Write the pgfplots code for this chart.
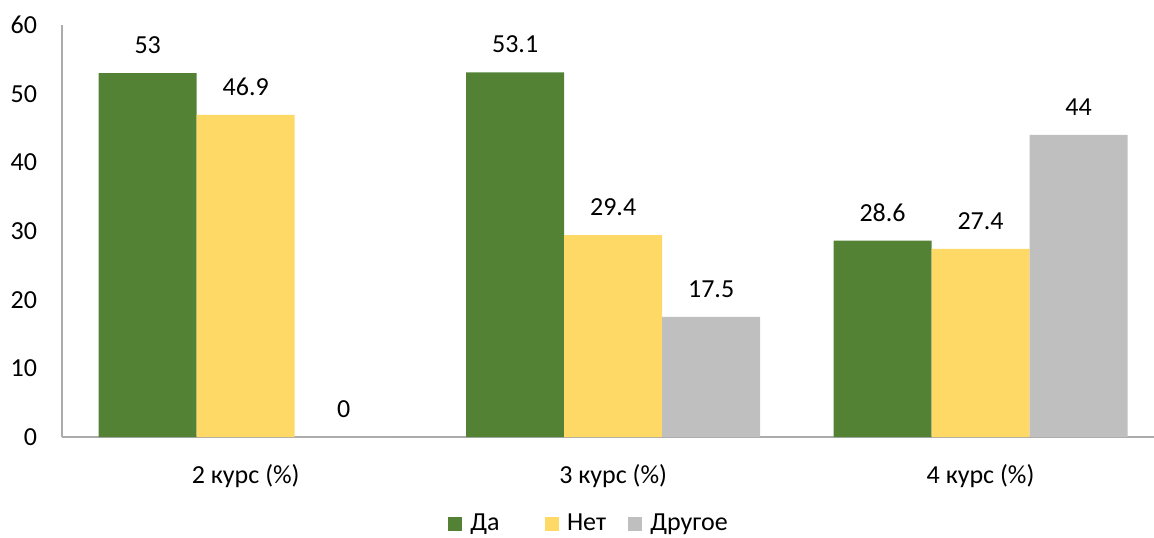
\documentclass[border=0pt]{standalone}
\usepackage{fontspec}
\setmainfont{Carlito}
\usepackage{pgfplots}
\pgfplotsset{compat=1.18}
\definecolor{cgreen}{HTML}{548235}
\definecolor{cyellow}{HTML}{FFD966}
\definecolor{cgray}{HTML}{BFBFBF}
\definecolor{caxis}{HTML}{ABABAB}
\begin{document}
\fontsize{19.5}{23}\selectfont
\begin{tikzpicture}
\useasboundingbox (-46.5pt,-75pt) rectangle (819pt,327.75pt);
\begin{axis}[
  at={(0,0)}, anchor=south west,
  scale only axis, width=819pt, height=309pt,
  xmin=-0.5, xmax=2.472, ymin=0, ymax=60,
  ybar=0pt, bar width=73.5pt,
  axis x line*=bottom, axis y line*=left,
  axis line style={caxis, line width=0.9pt},
  x axis line style={-}, y axis line style={-},
  xtick={0,1,2}, xticklabels={2 курс (\%),3 курс (\%),4 курс (\%)},
  ytick={0,10,...,60},
  major tick length=0pt,
  xticklabel style={yshift=-14pt},
  yticklabel style={xshift=-12pt},
  tick label style={font=\fontsize{19.5}{23}\selectfont},
  /pgf/number format/assume math mode=true,
  nodes near coords,
  nodes near coords style={font=\fontsize{19.5}{23}\selectfont, anchor=center, yshift=21pt,
     /pgf/number format/fixed, /pgf/number format/precision=1},
  legend columns=3,
  legend style={draw=none, at={(0.4817,-0.2115)}, anchor=center,
     font=\fontsize{19.5}{23}\selectfont,
     /tikz/every odd column/.append style={column sep=4pt},
     /tikz/every even column/.append style={column sep=0pt}},
  legend image code/.code={\fill[#1] (0pt,-5.25pt) rectangle (10.5pt,5.25pt);},
]
\addplot[fill=cgreen, draw=none] coordinates {(0,53) (1,53.1) (2,28.6)};
\addplot[fill=cyellow, draw=none] coordinates {(0,46.9) (1,29.4) (2,27.4)};
\addplot[fill=cgray, draw=none] coordinates {(0,0) (1,17.5) (2,44)};
\legend{\makebox[54pt][l]{Да},\makebox[44pt][l]{Нет},\makebox[56pt][l]{Другое}}
\end{axis}
\end{tikzpicture}
\end{document}
